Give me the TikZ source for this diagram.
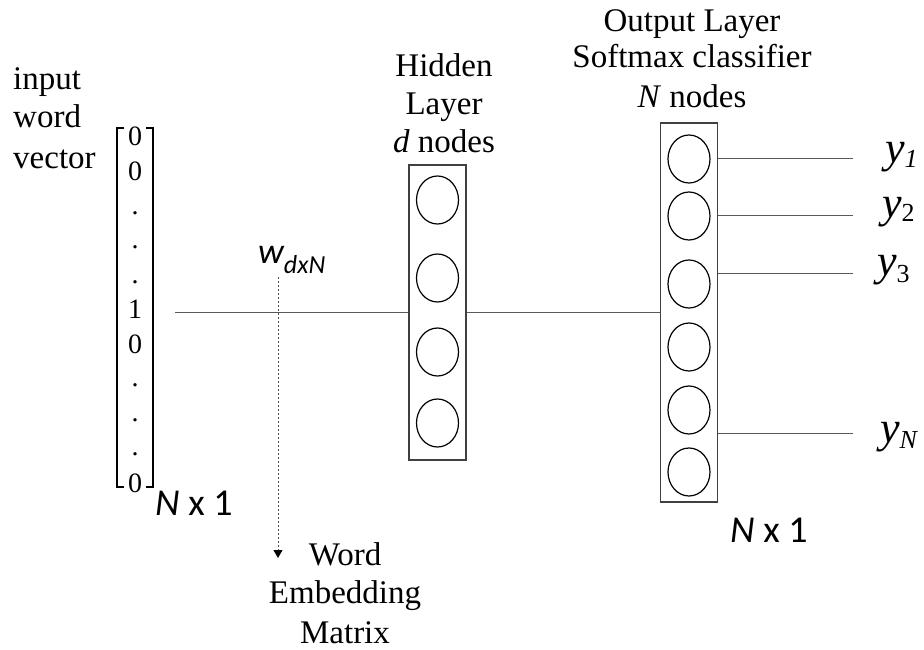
\documentclass[tikz,border=0pt]{standalone}
\usepackage{fontspec}
\setmainfont{Liberation Serif}
\newfontfamily\sansf{Carlito}
\usetikzlibrary{shapes.geometric,arrows.meta}
\begin{document}
\begin{tikzpicture}[x=1pt,y=-1pt,
  lbl/.style={inner sep=0pt, anchor=base, font=\fontsize{33}{38}\selectfont},
  lblw/.style={inner sep=0pt, anchor=base west, font=\fontsize{33}{38}\selectfont},
  szlbl/.style={inner sep=0pt, anchor=base west, font=\sansf\fontsize{38}{42}\selectfont},
  ent/.style={inner sep=0pt, anchor=base, font=\fontsize{28}{32}\selectfont},
  ylab/.style={inner sep=0pt, anchor=base west, font=\itshape\fontsize{44}{48}\selectfont},
  layerbox/.style={draw=black!75, line width=1.4pt, minimum width=57pt, inner sep=0pt},
  neuron/.style={ellipse, draw=black, line width=1.2pt, minimum width=42pt, minimum height=48pt, inner sep=0pt},
  conn/.style={draw=black!65, line width=1pt},
  brk/.style={line width=2pt}]
\useasboundingbox (0,0) rectangle (924,650);

% input word vector label
\node[lblw] (in1) at (13,90) {input};
\node[lblw] (in2) at (13,128) {word};
\node[lblw] (in3) at (13,168) {vector};

% vector brackets
\draw[brk] (124,128) -- (117,128) -- (117,487) -- (124,487);
\draw[brk] (146,128) -- (153,128) -- (153,487) -- (146,487);
% vector entries
\node[ent] (v0) at (135,146) {0};
\node[ent] (v1) at (135,180) {0};
\node[ent] (v2) at (135,214) {.};
\node[ent] (v3) at (135,248.5) {.};
\node[ent] (v4) at (135,283) {.};
\node[ent] (v5) at (135,318) {1};
\node[ent] (v6) at (135,353) {0};
\node[ent] (v7) at (135,386.5) {.};
\node[ent] (v8) at (135,421) {.};
\node[ent] (v9) at (135,455.5) {.};
\node[ent] (v10) at (135,492) {0};
\node[szlbl] (nx1a) at (155,515) {\textit{N} x 1};

% hidden layer
\node[lbl] (hl1) at (444,77) {Hidden};
\node[lbl] (hl2) at (444,115) {Layer};
\node[lbl] (hl3) at (444,153) {\textit{d} nodes};
\node[layerbox, minimum height=295pt] (hid) at (437.5,312.5) {};
\foreach \yy [count=\i] in {200,278,352,423}
  \node[neuron] (h\i) at (437.5,\yy) {};

% output layer
\node[lbl] (ol1) at (692,32) {Output Layer};
\node[lbl] (ol2) at (692,68) {Softmax classifier};
\node[lbl] (ol3) at (692,108) {\textit{N} nodes};
\node[layerbox, minimum height=379pt] (out) at (689,312.5) {};
\foreach \yy [count=\i] in {159,216,284,347,410,472}
  \node[neuron] (o\i) at (689,\yy) {};
\node[szlbl] (nx1b) at (730,542) {\textit{N} x 1};

% connectors
\coordinate (vin) at (175,312.5);
\draw[conn] (vin) -- (hid.west);
\draw[conn] (hid.east) -- (out.west);

% weight label and dotted arrow
\node[inner sep=0pt, anchor=base west, font=\sansf\itshape\fontsize{36}{40}\selectfont] (w) at (258,263)
  {w\raisebox{-10pt}{\fontsize{26}{30}\selectfont dxN}};
\coordinate (wtop) at (278,277);
\coordinate (wbot) at (278,558);
\draw[black!70, line width=1pt, dash pattern=on 2pt off 2pt,
  -{Triangle[length=8pt,width=9pt,black]}] (wtop) -- (wbot);
\node[lbl] (we1) at (345,565) {Word};
\node[lbl] (we2) at (345,603) {Embedding};
\node[lbl] (we3) at (345,643) {Matrix};

% outputs
\coordinate (e1) at (853,159);
\coordinate (e2) at (853,215);
\coordinate (e3) at (853,273);
\coordinate (eN) at (853,433);
\draw[conn] (out.east |- e1) -- (e1);
\draw[conn] (out.east |- e2) -- (e2);
\draw[conn] (out.east |- e3) -- (e3);
\draw[conn] (out.east |- eN) -- (eN);
\node[ylab] (y1) at (885,163) {y\raisebox{-5pt}{\fontsize{26}{30}\selectfont 1}};
\node[ylab] (y2) at (882,217) {y\raisebox{-5pt}{\fontsize{26}{30}\selectfont\upshape 2}};
\node[ylab] (y3) at (877,275) {y\raisebox{-7pt}{\fontsize{26}{30}\selectfont\upshape 3}};
\node[ylab] (yN) at (880,442) {y\raisebox{-6pt}{\fontsize{26}{30}\selectfont N}};
\end{tikzpicture}
\end{document}
